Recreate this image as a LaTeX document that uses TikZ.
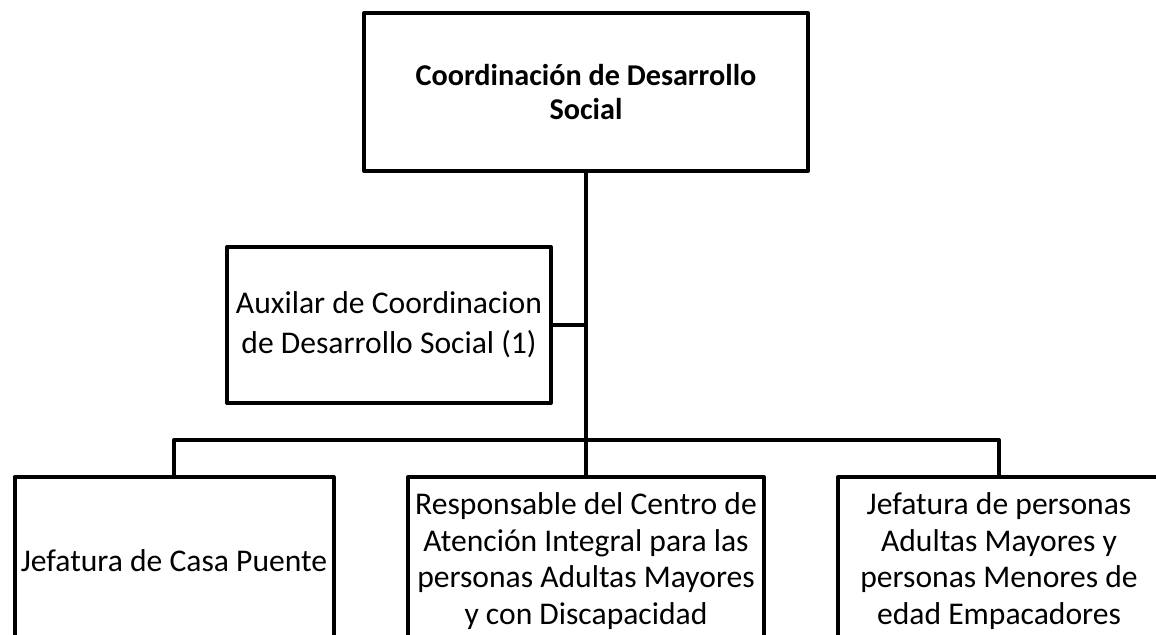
\documentclass[tikz,border=0pt]{standalone}
\usepackage{fontspec}
\setmainfont{Carlito}
\usepackage{tikz}
\usetikzlibrary{positioning}
\tikzset{
  unit/.style={
    rectangle,
    draw=black,
    line width=2pt,
    line join=round,
    align=center,
    inner sep=2pt,
    font=\fontsize{15.8}{18.4}\selectfont
  },
  wire/.style={
    line width=2pt,
    line join=round
  }
}

\begin{document}
\begin{tikzpicture}[x=0.5pt, y=-0.5pt]

\useasboundingbox (0,0) rectangle (1156,635);
\clip (0,0) rectangle (1156,635);

\node[unit, minimum width=222pt, minimum height=79pt,
      font=\fontsize{15.1}{17}\selectfont\bfseries] (coord) at (586,92)
  {Coordinación de Desarrollo\\Social};
\node[unit, minimum width=162pt, minimum height=78pt,
      font=\fontsize{15.8}{20}\selectfont] (aux) at (389,325)
  {Auxilar de Coordinacion\\de Desarrollo Social (1)};

\node[unit, minimum width=159.5pt, minimum height=84pt] (casa) at (174,561)
  {Jefatura de Casa Puente};
\node[unit, minimum width=178pt, minimum height=84pt] (cai) at (586,561)
  {Responsable del Centro de\\Atención Integral para las\\personas Adultas Mayores\\y con Discapacidad};
\node[unit, minimum width=161pt, minimum height=84pt] (emp) at (999,561)
  {Jefatura de personas\\Adultas Mayores y\\personas Menores de\\edad Empacadores};

\draw[wire] (coord.south) -- (cai.north);
\draw[wire] (aux.east) -- (aux.east -| coord.south);
\draw[wire] (casa.north) -- ++(0,-35) -| (emp.north);

\end{tikzpicture}
\end{document}
